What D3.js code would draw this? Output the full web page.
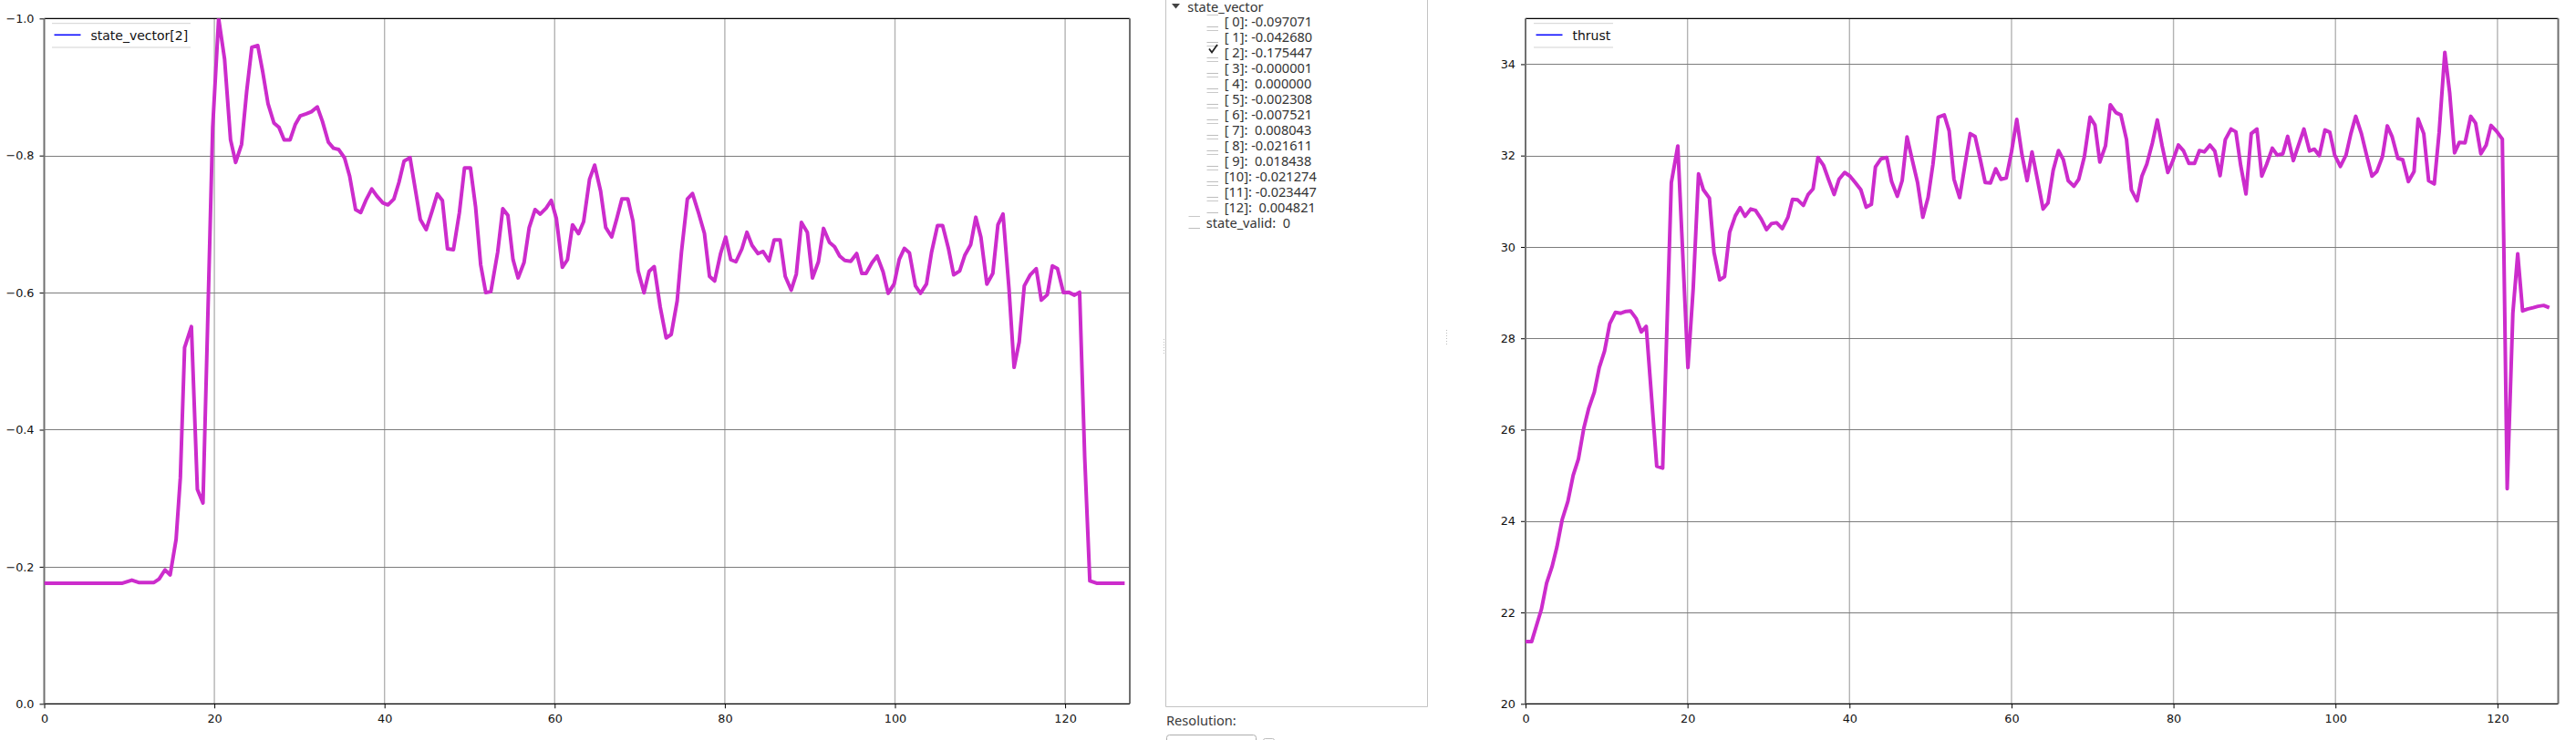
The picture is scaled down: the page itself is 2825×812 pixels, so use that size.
<!DOCTYPE html>
<html>
<head>
<meta charset="utf-8">
<script src="https://cdn.jsdelivr.net/npm/d3@7/dist/d3.min.js"></script>
<style>
  html, body { margin: 0; padding: 0; background: #ffffff; }
  svg { display: block; }
  .tick text { font-family: "DejaVu Sans", sans-serif; }
</style>
</head>
<body>
<svg id="chart" width="2825" height="812"></svg>
<script>
// ---------------- DATA ----------------
const xTicks = [0, 20, 40, 60, 80, 100, 120];
const svTicks = [0, -0.2, -0.4, -0.6, -0.8, -1.0];
const thrustTicks = [20, 22, 24, 26, 28, 30, 32, 34];

const svX = [0, 9.2, 10.3, 11.1, 12.9, 13.5, 14.2, 14.8, 15.5, 16.0, 16.5, 17.3, 18.0, 18.66, 19.2, 19.8, 20.5,
  21.2, 21.9, 22.5, 23.2, 23.8, 24.4, 25.1, 25.7, 26.3, 27.0, 27.6, 28.2, 28.9, 29.5, 30.1, 30.8, 31.4, 32.1,
  32.7, 33.4, 34.0, 34.6, 35.3, 35.9, 36.6, 37.2, 37.8, 38.5, 39.1, 39.8, 40.4, 41.1, 41.7, 42.3, 43.0, 43.6,
  44.2, 44.9, 45.6, 46.2, 46.8, 47.4, 48.1, 48.8, 49.4, 50.1, 50.7, 51.3, 51.9, 52.5, 53.3, 53.9, 54.5, 55.1,
  55.7, 56.4, 57.0, 57.7, 58.3, 59.0, 59.6, 60.2, 60.9, 61.5, 62.1, 62.8, 63.4, 64.1, 64.7, 65.4, 66.0, 66.7,
  67.3, 67.9, 68.6, 69.2, 69.8, 70.5, 71.1, 71.7, 72.4, 73.1, 73.7, 74.4, 74.9, 75.6, 76.2, 76.9, 77.6, 78.2,
  78.8, 79.5, 80.1, 80.7, 81.3, 82.0, 82.6, 83.2, 83.9, 84.5, 85.2, 85.8, 86.5, 87.1, 87.8, 88.4, 89.0, 89.7,
  90.3, 91.0, 91.6, 92.3, 92.9, 93.5, 94.1, 94.8, 95.5, 96.1, 96.6, 97.3, 97.9, 98.6, 99.2, 99.9, 100.5, 101.1,
  101.7, 102.4, 103.0, 103.7, 104.3, 105.0, 105.6, 106.3, 106.9, 107.6, 108.2, 108.9, 109.5, 110.1, 110.8,
  111.5, 112.1, 112.7, 113.4, 114.0, 114.6, 115.2, 115.9, 116.6, 117.2, 117.9, 118.5, 119.1, 119.8, 120.4,
  121.1, 121.7, 122.3, 122.9, 123.7, 127.0];
const svY = [-0.176, -0.176, -0.1805, -0.177, -0.177, -0.182, -0.1955, -0.188, -0.24, -0.33, -0.52, -0.5505,
  -0.313, -0.293, -0.55, -0.841, -1.0, -0.9406, -0.823, -0.790, -0.8165, -0.894, -0.958, -0.9605, -0.921,
  -0.876, -0.8475, -0.841, -0.823, -0.823, -0.845, -0.858, -0.861, -0.864, -0.871, -0.850, -0.8196, -0.8107,
  -0.809, -0.7966, -0.770, -0.721, -0.7168, -0.7345, -0.7513, -0.741, -0.731, -0.728, -0.7367, -0.761, -0.7921,
  -0.797, -0.752, -0.707, -0.692, -0.7194, -0.744, -0.7345, -0.664, -0.6627, -0.7168, -0.782, -0.782, -0.7256,
  -0.641, -0.600, -0.6015, -0.659, -0.7225, -0.7128, -0.6485, -0.6215, -0.644, -0.6946, -0.7212, -0.7146,
  -0.7234, -0.7345, -0.708, -0.637, -0.648, -0.699, -0.686, -0.7035, -0.7655, -0.786, -0.748, -0.695, -0.6813,
  -0.708, -0.7367, -0.7367, -0.7044, -0.632, -0.5997, -0.631, -0.638, -0.5793, -0.534, -0.539, -0.588, -0.659,
  -0.7367, -0.7447, -0.7168, -0.6866, -0.6237, -0.617, -0.657, -0.681, -0.648, -0.645, -0.6636, -0.688, -0.669,
  -0.657, -0.66, -0.6463, -0.677, -0.677, -0.6237, -0.6037, -0.627, -0.7026, -0.688, -0.6215, -0.645, -0.6937,
  -0.6733, -0.667, -0.6534, -0.647, -0.6458, -0.657, -0.628, -0.628, -0.6436, -0.6534, -0.6303, -0.599, -0.6125,
  -0.6485, -0.6645, -0.658, -0.610, -0.599, -0.6125, -0.659, -0.698, -0.698, -0.6636, -0.626, -0.6316, -0.6543,
  -0.67, -0.710, -0.681, -0.6125, -0.628, -0.699, -0.7146, -0.606, -0.491, -0.528, -0.610, -0.626, -0.635,
  -0.589, -0.597, -0.639, -0.635, -0.600, -0.6006, -0.5963, -0.6006, -0.36, -0.1795, -0.176, -0.176];

const thrustX = [0, 0.75, 1.96, 2.6, 3.27, 3.87, 4.52, 5.23, 5.88, 6.53, 7.19, 7.79, 8.49, 9.1, 9.75, 10.4,
  11.1, 11.76, 12.4, 12.96, 13.67, 14.3, 14.9, 16.2, 16.93, 18.0, 18.8, 20.05, 20.7, 21.36, 21.96, 22.7, 23.27,
  23.97, 24.57, 25.2, 25.9, 26.5, 27.1, 27.8, 28.4, 29.1, 29.75, 30.35, 31.0, 31.7, 32.4, 32.96, 33.6, 34.3,
  34.9, 35.5, 36.1, 36.8, 37.4, 38.1, 38.7, 39.4, 40.05, 40.7, 41.4, 42.06, 42.7, 43.2, 43.9, 44.6, 45.2, 45.9,
  46.5, 47.1, 47.7, 48.4, 49.05, 49.7, 50.3, 50.95, 51.7, 52.3, 52.9, 53.6, 54.3, 54.9, 55.5, 56.15, 56.75,
  57.4, 58.05, 58.7, 59.35, 60.0, 60.65, 61.3, 61.93, 62.53, 63.2, 63.9, 64.5, 65.15, 65.8, 66.4, 67.0, 67.7,
  68.3, 69.0, 69.7, 70.3, 70.9, 71.6, 72.2, 72.9, 73.5, 74.2, 74.8, 75.5, 76.1, 76.7, 77.4, 78.0, 78.6, 79.3,
  79.9, 80.6, 81.25, 81.9, 82.6, 83.2, 83.8, 84.5, 85.1, 85.75, 86.4, 87.1, 87.7, 88.3, 88.95, 89.6, 90.3,
  90.9, 91.5, 92.2, 92.8, 93.5, 94.1, 94.8, 95.4, 96.1, 96.8, 97.4, 98.0, 98.7, 99.3, 99.9, 100.6, 101.3,
  101.9, 102.5, 103.2, 103.8, 104.5, 105.1, 105.8, 106.4, 107.0, 107.7, 108.3, 109.0, 109.7, 110.2, 110.9,
  111.5, 112.2, 112.8, 113.5, 114.1, 114.7, 115.3, 116.0, 116.7, 117.3, 117.95, 118.6, 119.2, 119.9, 120.6,
  121.2, 121.9, 122.5, 123.1, 123.7, 124.4, 125.0, 125.7, 126.4];
const thrustY = [21.36, 21.36, 22.07, 22.64, 23.0, 23.43, 24.03, 24.43, 25.0, 25.36, 26.03, 26.46, 26.82,
  27.36, 27.72, 28.32, 28.57, 28.55, 28.59, 28.60, 28.43, 28.14, 28.26, 25.20, 25.16, 31.41, 32.21, 27.36,
  29.09, 31.6, 31.25, 31.07, 29.88, 29.28, 29.35, 30.32, 30.68, 30.86, 30.67, 30.83, 30.80, 30.61, 30.38,
  30.51, 30.53, 30.40, 30.65, 31.04, 31.03, 30.91, 31.15, 31.27, 31.96, 31.78, 31.48, 31.15, 31.48, 31.63,
  31.55, 31.41, 31.25, 30.87, 30.93, 31.75, 31.93, 31.96, 31.43, 31.11, 31.45, 32.41, 31.94, 31.41, 30.65,
  31.08, 31.81, 32.84, 32.89, 32.54, 31.48, 31.08, 31.85, 32.48, 32.42, 31.91, 31.41, 31.40, 31.71, 31.48,
  31.51, 32.08, 32.79, 32.01, 31.45, 32.08, 31.48, 30.83, 30.96, 31.68, 32.11, 31.91, 31.45, 31.33, 31.48,
  31.98, 32.84, 32.67, 31.86, 32.21, 33.11, 32.94, 32.89, 32.35, 31.25, 31.01, 31.55, 31.81, 32.28, 32.78,
  32.21, 31.63, 31.88, 32.23, 32.10, 31.83, 31.83, 32.11, 32.08, 32.23, 32.10, 31.56, 32.35, 32.58, 32.52,
  31.78, 31.16, 32.48, 32.58, 31.55, 31.81, 32.16, 32.01, 32.04, 32.42, 31.89, 32.21, 32.58, 32.10, 32.14,
  32.0, 32.56, 32.51, 32.01, 31.76, 32.01, 32.48, 32.86, 32.48, 32.04, 31.55, 31.65, 31.98, 32.65, 32.41,
  31.94, 31.91, 31.43, 31.65, 32.80, 32.48, 31.45, 31.38, 32.51, 34.26, 33.37, 32.06, 32.29, 32.28, 32.86,
  32.71, 32.04, 32.23, 32.66, 32.53, 32.36, 24.71, 28.55, 29.85, 28.60, 28.64, 28.67, 28.70, 28.72, 28.67];

const treeHeader = "state_vector";
const treeItems = ["[ 0]: -0.097071", "[ 1]: -0.042680", "[ 2]: -0.175447", "[ 3]: -0.000001",
  "[ 4]:  0.000000", "[ 5]: -0.002308", "[ 6]: -0.007521", "[ 7]:  0.008043", "[ 8]: -0.021611",
  "[ 9]:  0.018438", "[10]: -0.021274", "[11]: -0.023447", "[12]:  0.004821"];
const treeChecked = [false, false, true, false, false, false, false, false, false, false, false, false, false];
const treeFooter = "state_valid:  0";

// ---------------- DRAW ----------------
const svg = d3.select("#chart");
const lineColor = "#cc2ccc";
const TOP = 20.3, BOT = 772.3;

function drawChart(id, xs, ys, xDom, xRange, yDom, yTicks, yFmt, legendText, legend) {
  const x = d3.scaleLinear().domain(xDom).range(xRange);
  const y = d3.scaleLinear().domain(yDom).range([BOT, TOP]);
  const g = svg.append("g");

  g.append("defs").append("clipPath").attr("id", "clip" + id)
    .append("rect").attr("x", xRange[0]).attr("y", TOP)
    .attr("width", xRange[1] - xRange[0]).attr("height", BOT - TOP);

  // grid
  g.selectAll(".vg").data(xTicks.filter(d => d > 0)).enter().append("line")
    .attr("x1", d => x(d)).attr("x2", d => x(d)).attr("y1", TOP).attr("y2", BOT)
    .attr("stroke", "#b3b3b3").attr("stroke-width", 1.4);
  g.selectAll(".hg").data(yTicks.filter(d => d !== yDom[0] && d !== yDom[1])).enter().append("line")
    .attr("x1", xRange[0]).attr("x2", xRange[1]).attr("y1", d => Math.round(y(d)) + 0.5).attr("y2", d => Math.round(y(d)) + 0.5)
    .attr("stroke", "#7c7c7c").attr("stroke-width", 1);

  // axes
  const ax = g.append("g").attr("transform", `translate(0,${BOT})`)
    .call(d3.axisBottom(x).tickValues(xTicks).tickSize(5).tickPadding(6.5).tickFormat(d3.format("d")));
  const ay = g.append("g").attr("transform", `translate(${xRange[0]},0)`)
    .call(d3.axisLeft(y).tickValues(yTicks).tickSize(5).tickPadding(6).tickFormat(yFmt));
  [ax, ay].forEach(a => {
    a.select(".domain").remove();
    a.selectAll(".tick line").attr("stroke", "#000").attr("stroke-width", 1);
    a.selectAll(".tick text").attr("fill", "#111").style("font-size", "12.8px");
  });

  // frame
  g.append("line").attr("x1", xRange[0]).attr("x2", xRange[1]).attr("y1", TOP).attr("y2", TOP)
    .attr("stroke", "#000").attr("stroke-width", 1.2);
  g.append("line").attr("x1", xRange[0]).attr("x2", xRange[1]).attr("y1", BOT).attr("y2", BOT)
    .attr("stroke", "#000").attr("stroke-width", 1.2);
  g.append("line").attr("x1", xRange[0]).attr("x2", xRange[0]).attr("y1", TOP).attr("y2", BOT)
    .attr("stroke", "#707070").attr("stroke-width", 2);
  g.append("line").attr("x1", xRange[1]).attr("x2", xRange[1]).attr("y1", TOP).attr("y2", BOT)
    .attr("stroke", "#707070").attr("stroke-width", 2);

  // data line
  const pts = xs.map((d, i) => [d, ys[i]]);
  g.append("path").datum(pts)
    .attr("clip-path", `url(#clip${id})`)
    .attr("fill", "none").attr("stroke", lineColor).attr("stroke-width", 4)
    .attr("stroke-linejoin", "round")
    .attr("d", d3.line().x(d => x(d[0])).y(d => y(d[1])));

  // legend
  const lx = xRange[0] + legend.dx;
  g.append("line").attr("x1", lx).attr("x2", lx + legend.w).attr("y1", 25.7).attr("y2", 25.7)
    .attr("stroke", "#d3d3d3").attr("stroke-width", 1);
  g.append("line").attr("x1", lx).attr("x2", lx + legend.w).attr("y1", 52).attr("y2", 52)
    .attr("stroke", "#d3d3d3").attr("stroke-width", 1);
  g.append("line").attr("x1", lx + 2.5).attr("x2", lx + 31.5).attr("y1", 38.3).attr("y2", 38.3)
    .attr("stroke", "#0000ff").attr("stroke-width", 1.5);
  g.append("text").attr("x", lx + 42.5).attr("y", 44)
    .attr("font-family", "DejaVu Sans, sans-serif").attr("font-size", "14px").attr("fill", "#111")
    .text(legendText);
}

drawChart("L", svX, svY, [0, 127.6], [48.5, 1239], [0, -1], svTicks, d3.format(".1f"),
  "state_vector[2]", { dx: 8.5, w: 152 });
drawChart("R", thrustX, thrustY, [0, 127.5], [1673, 2805.5], [20, 35], thrustTicks, d3.format("d"),
  "thrust", { dx: 9, w: 87 });

// ---------------- middle panel ----------------
const p = svg.append("g");
const panelFont = "Noto Sans, Open Sans, sans-serif";
p.append("path").attr("d", "M1278.5,0 V775.5 H1565.5 V0")
  .attr("fill", "none").attr("stroke", "#c3c3c3").attr("stroke-width", 1);
// splitter handles
p.append("line").attr("x1", 1276.5).attr("x2", 1276.5).attr("y1", 372).attr("y2", 388)
  .attr("stroke", "#bdbdbd").attr("stroke-dasharray", "1,2");
p.append("line").attr("x1", 1586.5).attr("x2", 1586.5).attr("y1", 362).attr("y2", 378)
  .attr("stroke", "#bdbdbd").attr("stroke-dasharray", "1,2");
// tree header
p.append("path").attr("d", "M1285,4 L1294,4 L1289.5,9.5 Z").attr("fill", "#444");
p.append("text").attr("x", 1302.3).attr("y", 12.5).attr("font-family", panelFont)
  .attr("font-size", "14.6px").attr("fill", "#333").text(treeHeader);
// items
const itemData = treeItems.map((t, i) => ({ t: t, i: i, c: treeChecked[i] }));
const rows = p.selectAll(".row").data(itemData).enter().append("g");
rows.append("line").attr("x1", 1323.5).attr("x2", 1336).attr("y1", d => 16.5 + 17 * d.i).attr("y2", d => 16.5 + 17 * d.i)
  .attr("stroke", "#c8c8c8");
rows.append("line").attr("x1", 1323.5).attr("x2", 1336).attr("y1", d => 29.5 + 17 * d.i).attr("y2", d => 29.5 + 17 * d.i)
  .attr("stroke", "#bdbdbd");
rows.append("text").attr("x", 1342.7).attr("y", d => 29.3 + 17 * d.i)
  .attr("font-family", panelFont).attr("font-size", "14.6px").attr("fill", "#333")
  .style("white-space", "pre").text(d => d.t);
rows.filter(d => d.c).append("path")
  .attr("d", d => { const cy = 17 * d.i; return `M1326,${19.5 + cy} L1329,${23.5 + cy} L1335,${15 + cy}`; })
  .attr("fill", "none").attr("stroke", "#222").attr("stroke-width", 1.8);
// footer
p.append("line").attr("x1", 1303.5).attr("x2", 1316).attr("y1", 237.5).attr("y2", 237.5).attr("stroke", "#c8c8c8");
p.append("line").attr("x1", 1303.5).attr("x2", 1316).attr("y1", 250.5).attr("y2", 250.5).attr("stroke", "#bdbdbd");
p.append("text").attr("x", 1322.7).attr("y", 250).attr("font-family", panelFont)
  .attr("font-size", "14.6px").attr("fill", "#333").style("white-space", "pre").text(treeFooter);
// resolution
p.append("text").attr("x", 1279).attr("y", 795.5).attr("font-family", panelFont)
  .attr("font-size", "14.6px").attr("fill", "#3a3a3a").text("Resolution:");
p.append("rect").attr("x", 1279.5).attr("y", 806.5).attr("width", 98).attr("height", 22).attr("rx", 3)
  .attr("fill", "#fff").attr("stroke", "#adadad");
p.append("rect").attr("x", 1385.5).attr("y", 810.5).attr("width", 12).attr("height", 12).attr("rx", 2)
  .attr("fill", "#fff").attr("stroke", "#bdbdbd");
</script>
</body>
</html>
